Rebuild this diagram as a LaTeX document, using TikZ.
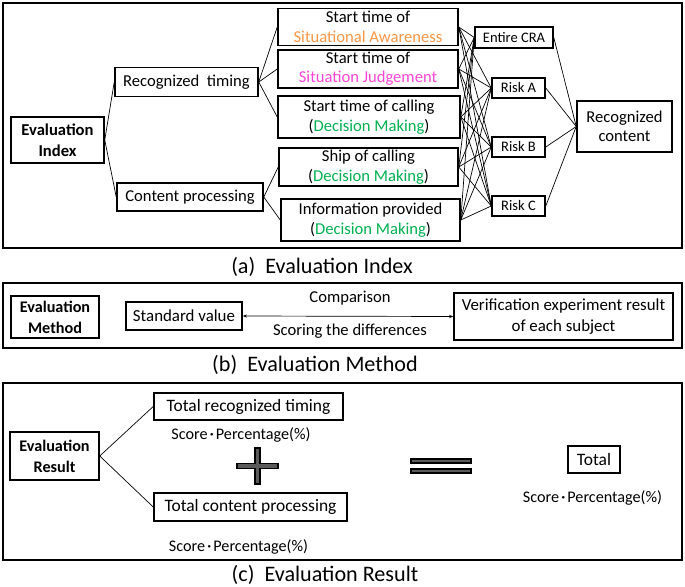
\documentclass[tikz,border=0pt]{standalone}
\usepackage{fontspec}
\setmainfont{Carlito}
\newfontfamily\cjkfont{Noto Sans CJK JP}
\usepackage{tikz}
\usetikzlibrary{arrows.meta, positioning}
\usepackage{xcolor}
\definecolor{SAOrange}{RGB}{247,150,70}
\definecolor{SJMagenta}{RGB}{250,70,215}
\definecolor{DMGreen}{RGB}{0,176,80}
\definecolor{SymbolGray}{RGB}{90,90,90}
\newcommand{\scoredot}{\kern-1.5pt{\cjkfont\fontsize{9}{10}\selectfont ・}\kern-1.5pt}
\tikzset{%
  box/.style={%
    draw=black,%
    rectangle,%
    line width=1.1pt,%
    inner sep=0.5pt,%
    align=center,%
    font={\fontsize{12}{14}\selectfont},%
  },
  keybox/.style={%
    box,%
    font={\fontsize{12}{15}\selectfont\bfseries},%
  },
  smallbox/.style={%
    box,%
    font={\fontsize{10.5}{13}\selectfont},%
  },
  methodbox/.style={%
    box,%
    font={\fontsize{12.2}{15}\selectfont},%
  },
  resultbox/.style={%
    box,%
    font={\fontsize{12.6}{15}\selectfont},%
  },
  smallkey/.style={%
    box,%
    font={\fontsize{11.7}{15}\selectfont\bfseries},%
  },
  frame/.style={%
    draw=black,%
    line width=1pt,%
  },
  link/.style={%
    color=black,%
    line width=0.5pt,%
  },
  annotate/.style={%
    font={\fontsize{12}{14}\selectfont},%
  },
  score/.style={%
    font={\fontsize{11.7}{14}\selectfont},%
  },
  caption/.style={%
    font={\fontsize{16}{18}\selectfont},%
  },
  symbol/.style={%
    draw=black,%
    fill=SymbolGray,%
    line width=0.8pt,%
  },
  pair/.style={{Stealth[length=3pt]}-{Stealth[length=3pt]}},
}

\begin{document}
\begin{tikzpicture}[x=1in, y=1in]
  \useasboundingbox (0,0) rectangle (6.85,-5.87);

  % (a) evaluation index
  \draw [frame] (0.03,-0.03) rectangle (6.82,-2.48);
  \node [keybox, minimum width=0.93in, minimum height=0.46in] (EvalIndex) at (0.575,-1.40) {Evaluation\\Index};
  \node [box, minimum width=1.43in, minimum height=0.29in] (RecTiming) at (1.865,-0.82) {Recognized\ \ timing};
  \node [box, minimum width=1.46in, minimum height=0.28in] (ContProc) at (1.90,-1.97) {Content processing};

  \node [box, minimum width=1.80in, minimum height=0.37in] (StartSA) at (3.68,-0.27)
    {Start time of\\\textcolor{SAOrange}{Situational Awareness}};
  \node [box, minimum width=1.80in, minimum height=0.38in] (StartSJ) at (3.68,-0.69)
    {Start time of\\\textcolor{SJMagenta}{Situation Judgement}};
  \node [box, minimum width=1.82in, minimum height=0.42in] (StartCall) at (3.69,-1.17)
    {Start time of calling\\(\textcolor{DMGreen}{Decision Making})};
  \node [box, minimum width=1.79in, minimum height=0.38in] (ShipCall) at (3.685,-1.67)
    {Ship of calling\\(\textcolor{DMGreen}{Decision Making})};
  \node [box, minimum width=1.79in, minimum height=0.42in] (InfoProv) at (3.705,-2.20)
    {Information provided\\(\textcolor{DMGreen}{Decision Making})};

  \node [smallbox, minimum width=0.78in, minimum height=0.21in] (EntireCRA) at (5.14,-0.375) {Entire CRA};
  \node [smallbox, minimum width=0.53in, minimum height=0.20in] (RiskA) at (5.185,-0.88) {Risk A};
  \node [smallbox, minimum width=0.53in, minimum height=0.20in] (RiskB) at (5.185,-1.47) {Risk B};
  \node [smallbox, minimum width=0.53in, minimum height=0.20in] (RiskC) at (5.185,-2.06) {Risk C};
  \node [box, minimum width=0.95in, minimum height=0.51in] (RecContent) at (6.245,-1.265) {Recognized\\content};

  \draw [link] (EvalIndex.east) -- (RecTiming.west);
  \draw [link] (EvalIndex.east) -- (ContProc.west);
  \foreach \item in {StartSA, StartSJ, StartCall}
    \draw [link] (RecTiming.east) -- (\item.west);
  \foreach \item in {ShipCall, InfoProv}
    \draw [link] (ContProc.east) -- (\item.west);
  \foreach \item in {StartSA, StartSJ, StartCall, ShipCall, InfoProv}
    \foreach \risk in {EntireCRA, RiskA, RiskB, RiskC}
      \draw [link] (\item.east) -- (\risk.west);
  \foreach \risk in {EntireCRA, RiskA, RiskB, RiskC}
    \draw [link] (\risk.east) -- (RecContent.west);

  \node [caption] (CapA) at (3.22,-2.67) {(a)\ \ Evaluation Index};

  % (b) evaluation method
  \draw [frame] (0.03,-2.83) rectangle (6.82,-3.48);
  \node [smallkey, minimum width=0.88in, minimum height=0.42in] (EvalMethod) at (0.55,-3.17) {Evaluation\\Method};
  \node [methodbox, minimum width=1.16in, minimum height=0.28in] (StdValue) at (1.84,-3.16) {Standard value};
  \node [methodbox, minimum width=2.19in, minimum height=0.47in] (Verif) at (5.635,-3.165)
    {Verification experiment result\\of each subject};
  \draw [link, pair] (StdValue.east) -- (Verif.west);
  \node [annotate] (Comparison) at (3.50,-2.98) {Comparison};
  \node [annotate] (Scoring) at (3.50,-3.31) {Scoring the differences};

  \node [caption] (CapB) at (3.15,-3.65) {(b)\ \ Evaluation Method};

  % (c) evaluation result
  \draw [frame] (0.03,-3.83) rectangle (6.82,-5.60);
  \node [smallkey, minimum width=0.89in, minimum height=0.48in] (EvalResult) at (0.545,-4.56) {Evaluation\\Result};
  \node [resultbox, minimum width=1.89in, minimum height=0.27in] (TotTiming) at (2.485,-4.065) {Total recognized timing};
  \node [resultbox, minimum width=1.93in, minimum height=0.28in] (TotContent) at (2.505,-5.07) {Total content processing};
  \node [resultbox, minimum width=0.52in, minimum height=0.27in] (Total) at (5.94,-4.595) {Total};
  \node [score] (ScoreTiming) at (2.41,-4.35) {Score\scoredot Percentage(\%)};
  \node [score] (ScoreContent) at (2.385,-5.47) {Score\scoredot Percentage(\%)};
  \node [score] (ScoreTotal) at (5.925,-4.98) {Score\scoredot Percentage(\%)};

  \draw [link] (EvalResult.east) -- (TotTiming.west);
  \draw [link] (EvalResult.east) -- (TotContent.west);

  % plus and equals
  \draw [symbol] (2.575,-4.66) ++(-0.205,0.025) -- ++(0.18,0) -- ++(0,0.155) -- ++(0.05,0)
    -- ++(0,-0.155) -- ++(0.18,0) -- ++(0,-0.05) -- ++(-0.18,0) -- ++(0,-0.155)
    -- ++(-0.05,0) -- ++(0,0.155) -- ++(-0.18,0) -- cycle;
  \draw [symbol] (4.11,-4.59) rectangle (4.71,-4.63);
  \draw [symbol] (4.11,-4.69) rectangle (4.71,-4.73);

  \node [caption] (CapC) at (3.25,-5.75) {(c)\ \ Evaluation Result};
\end{tikzpicture}
\end{document}
